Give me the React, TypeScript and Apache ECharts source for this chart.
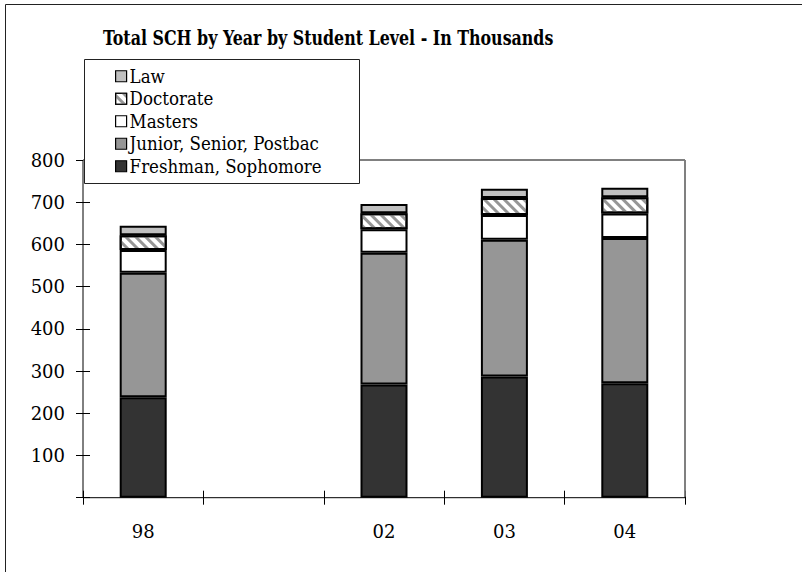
import React, { useEffect, useRef } from "react";
import * as echarts from "echarts";

const categories = ["98", "", "02", "03", "04"];
const freshmanSophomore = [238, null, 268, 287, 271];
const juniorSeniorPostbac = [295, null, 312, 324, 344];
const masters = [54, null, 56, 59, 58];
const doctorate = [35, null, 38, 40, 39];
const law = [22, null, 22, 22, 22];
const legendOrder = ["Law", "Doctorate", "Masters", "Junior, Senior, Postbac", "Freshman, Sophomore"];
const titleText = "Total SCH by Year by Student Level - In Thousands";

const SERIF = "'DejaVu Serif', serif";
const COND = "'DejaVu Serif Condensed'";

const GRID_L = 83;
const GRID_T = 160;
const GRID_W = 602;
const GRID_H = 337.7;

export default function App() {
  const ref = useRef<HTMLDivElement>(null);
  useEffect(() => {
    if (!ref.current) return;
    const chart = echarts.init(ref.current, undefined, { renderer: "svg" });
    const border = { borderColor: "#000", borderWidth: 2 };
    const mk = (name: string, data: (number | null)[], color: string, extra: any = {}) => ({
      name,
      type: "bar",
      stack: "total",
      data,
      barWidth: 47,
      itemStyle: { color, ...border, ...extra },
      emphasis: { disabled: true },
    });
    chart.setOption({
      animation: false,
      backgroundColor: "#fff",
      legend: {
        orient: "vertical",
        left: 115,
        top: 65,
        padding: 0,
        itemGap: 0,
        itemWidth: 11,
        itemHeight: 11,
        icon: "rect",
        z: 4,
        data: legendOrder,
        selectedMode: false,
        itemStyle: { borderColor: "#000", borderWidth: 1.2 },
        textStyle: { fontFamily: COND, fontSize: 18.5, color: "#000", lineHeight: 22.5, padding: [0, 0, 0, -2] },
      },
      grid: {
        left: GRID_L,
        top: GRID_T,
        width: GRID_W,
        height: GRID_H,
        show: true,
        borderColor: "#000",
        borderWidth: 1,
        backgroundColor: "transparent",
      },
      xAxis: {
        type: "category",
        data: categories,
        position: "bottom",
        offset: -7,
        axisLine: { show: false },
        axisTick: { show: true, interval: 0, length: 14, inside: false, lineStyle: { color: "#000" } },
        axisLabel: { interval: 0, margin: 32, fontFamily: SERIF, fontSize: 18, color: "#000" },
        splitLine: { show: false },
      },
      yAxis: {
        type: "value",
        min: 0,
        max: 800,
        interval: 100,
        position: "left",
        offset: -7,
        axisLine: { show: false },
        axisTick: { show: true, length: 14, inside: false, lineStyle: { color: "#000" } },
        axisLabel: {
          margin: 25,
          fontFamily: SERIF,
          fontSize: 18,
          color: "#000",
          formatter: (v: number) => (v === 0 ? "" : String(v)),
        },
        splitLine: { show: false },
      },
      series: [
        mk("Freshman, Sophomore", freshmanSophomore, "#333333"),
        mk("Junior, Senior, Postbac", juniorSeniorPostbac, "#969696"),
        mk("Masters", masters, "#ffffff"),
        mk("Doctorate", doctorate, "#ffffff", {
          decal: {
            symbol: "rect",
            symbolSize: 1,
            dashArrayX: [1, 0],
            dashArrayY: [3, 4],
            rotation: Math.PI / 4,
            color: "#969696",
          },
        }),
        mk("Law", law, "#c0c0c0"),
      ],
      graphic: [
        {
          type: "line",
          z: 1,
          silent: true,
          shape: { x1: GRID_L, y1: GRID_T, x2: GRID_L + GRID_W, y2: GRID_T },
          style: { stroke: "#808080", lineWidth: 1.5 },
        },
        {
          type: "line",
          z: 1,
          silent: true,
          shape: { x1: GRID_L + GRID_W, y1: GRID_T, x2: GRID_L + GRID_W, y2: GRID_T + GRID_H - 1 },
          style: { stroke: "#808080", lineWidth: 1.5 },
        },
        {
          type: "text",
          z: 10,
          x: 103,
          y: 38,
          scaleX: 0.84,
          style: {
            text: titleText,
            fontFamily: "'DejaVu Serif Condensed', 'DejaVu Serif', serif",
            fontWeight: "bold",
            fontSize: 21,
            fill: "#000",
            verticalAlign: "middle",
          },
        },
        {
          type: "rect",
          z: 3,
          shape: { x: 84.5, y: 59.5, width: 275, height: 124 },
          style: { fill: "#fff", stroke: "#222", lineWidth: 1 },
        },
        {
          type: "rect",
          z: 10,
          silent: true,
          shape: { x: 5.5, y: 4.5, width: 900, height: 700 },
          style: { fill: "none", stroke: "#222", lineWidth: 1 },
        },
      ],
    });
    return () => chart.dispose();
  }, []);
  return (
    <div
      ref={ref}
      style={{ position: "fixed", left: 0, top: 0, width: 802, height: 572, background: "#fff" }}
    />
  );
}
